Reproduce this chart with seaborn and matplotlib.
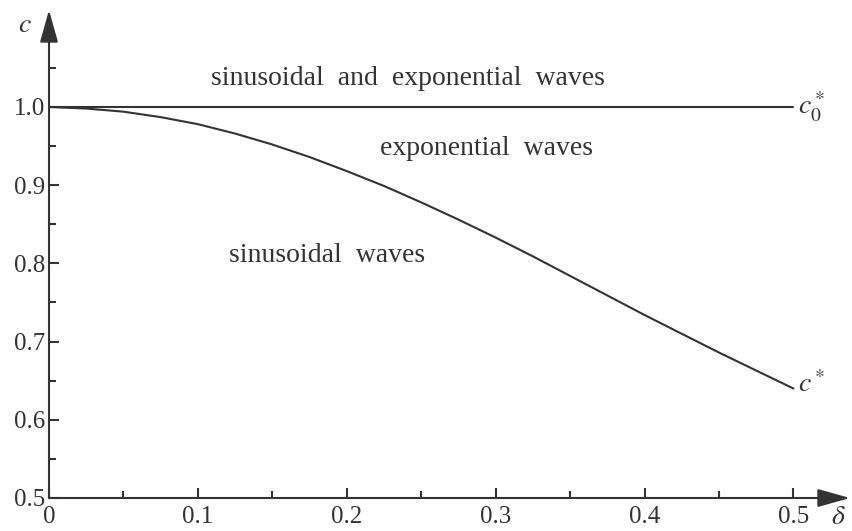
import numpy as np
import pandas as pd
import matplotlib
matplotlib.use("Agg")
import matplotlib.pyplot as plt
import seaborn as sns
from matplotlib.ticker import FixedLocator

# values
delta = [0.0, 0.025, 0.05, 0.075, 0.10, 0.125, 0.15, 0.175, 0.20, 0.225,
         0.25, 0.275, 0.30, 0.325, 0.35, 0.375, 0.40, 0.425, 0.45, 0.475, 0.50]
c_star = [1.0, 0.998, 0.994, 0.987, 0.978, 0.966, 0.952, 0.936, 0.918, 0.899,
          0.878, 0.856, 0.833, 0.809, 0.784, 0.759, 0.734, 0.710, 0.686, 0.663, 0.640]
c0_star = [1.0] * len(delta)

x_ticks = [0, 0.1, 0.2, 0.3, 0.4, 0.5]
x_labels = ["0", "0.1", "0.2", "0.3", "0.4", "0.5"]
y_ticks = [0.5, 0.6, 0.7, 0.8, 0.9, 1.0]
y_labels = ["0.5", "0.6", "0.7", "0.8", "0.9", "1.0"]

df = pd.DataFrame({"delta": delta + delta,
                   "c": c0_star + c_star,
                   "curve": ["c0"] * len(delta) + ["c"] * len(delta)})

sns.set_style("ticks")
plt.rcParams["font.family"] = ["Liberation Serif", "DejaVu Serif"]
plt.rcParams["mathtext.fontset"] = "stix"

ink = "#333333"
fig = plt.figure(figsize=(8.53, 5.31), dpi=100)
ax = fig.add_axes([49 / 853, 33 / 531, (850 - 49) / 853, (498 - 10) / 531])

sns.lineplot(data=df, x="delta", y="c", units="curve", estimator=None,
             color=ink, linewidth=1.5, ax=ax, legend=False)

ax.set_xlim(0, 0.538)
ax.set_ylim(0.5, 1.124)
for s in ax.spines.values():
    s.set_visible(False)

# axes with arrow heads
arrow = dict(arrowstyle="-|>,head_length=1.0,head_width=0.28", color=ink,
             lw=1.5, mutation_scale=20, shrinkA=0, shrinkB=0)
ax.annotate("", xy=(0.538, 0.5), xytext=(0, 0.5), arrowprops=arrow,
            annotation_clip=False)
ax.annotate("", xy=(0, 1.124), xytext=(0, 0.5), arrowprops=arrow,
            annotation_clip=False)

ax.xaxis.set_major_locator(FixedLocator(x_ticks))
ax.set_xticklabels(x_labels)
ax.xaxis.set_minor_locator(FixedLocator([0.05, 0.15, 0.25, 0.35, 0.45]))
ax.yaxis.set_major_locator(FixedLocator(y_ticks))
ax.set_yticklabels(y_labels)
ax.yaxis.set_minor_locator(FixedLocator([0.55, 0.65, 0.75, 0.85, 0.95, 1.05]))
ax.tick_params(which="both", direction="in", color=ink, width=1.5,
               labelsize=18, labelcolor=ink)
ax.tick_params(axis="x", pad=6)
ax.tick_params(axis="y", pad=3)
ax.tick_params(which="major", length=7.5)
ax.tick_params(which="minor", length=5)
ax.set_xlabel("")
ax.set_ylabel("")

tk = dict(fontsize=20, color=ink, ha="center", va="center")
ax.text(0.241, 1.037, "sinusoidal  and  exponential  waves", **tk)
ax.text(0.294, 0.947, "exponential  waves", **tk)
ax.text(0.187, 0.81, "sinusoidal  waves", **tk)
ax.text(0.503, 1.0, r"$c_0^*$", fontsize=20, color=ink, ha="left", va="center")
ax.text(0.503, 0.645, r"$c^*$", fontsize=20, color=ink, ha="left", va="center")
fig.text(25 / 853, 1 - 25 / 531, r"$c$", fontsize=20, color=ink,
         ha="center", va="center")
fig.text(838 / 853, 1 - 518 / 531, r"$\delta$", fontsize=20, color=ink,
         ha="center", va="center")

fig.savefig("out.png", dpi=100)
